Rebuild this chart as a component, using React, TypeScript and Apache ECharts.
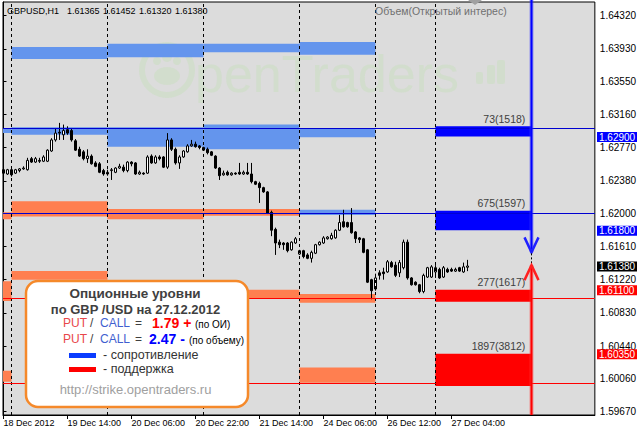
import React, { useEffect, useRef } from 'react';
import * as echarts from 'echarts';

// ---------- data ----------
const symbolTitle = 'GBPUSD,H1';
const lastQuote = ['1.61365', '1.61452', '1.61320', '1.61380'];
const indicatorTitle = 'Объем(Открытый интерес)';

const opens = [
  1.6251, 1.6246, 1.6251, 1.6247, 1.6250, 1.6252, 1.6251, 1.6264, 1.6260, 1.6262,
  1.6261, 1.6261, 1.6273, 1.6286, 1.6295, 1.6292, 1.6298, 1.6297, 1.6285, 1.6275,
  1.6272, 1.6264, 1.6267, 1.6259, 1.6258, 1.6250, 1.6246, 1.6250, 1.6248, 1.6253,
  1.6254, 1.6250, 1.6260, 1.6259, 1.6246, 1.6247, 1.6247, 1.6267, 1.6259, 1.6266,
  1.6266, 1.6254, 1.6286, 1.6275, 1.6259, 1.6266, 1.6272, 1.6279, 1.6281, 1.6279,
  1.6277, 1.6275, 1.6272, 1.6267, 1.6253, 1.6245, 1.6248, 1.6245, 1.6247, 1.6248,
  1.6246, 1.6248, 1.6246, 1.6237, 1.6235, 1.6230, 1.6225, 1.6201, 1.6181, 1.6166,
  1.6165, 1.6165, 1.6157, 1.6165, 1.6152, 1.6156, 1.6151, 1.6147, 1.6153, 1.6163,
  1.6165, 1.6170, 1.6170, 1.6171, 1.6180, 1.6190, 1.6189, 1.6189, 1.6178, 1.6171,
  1.6170, 1.6157, 1.6122, 1.6111, 1.6130, 1.6131, 1.6131, 1.6142, 1.6139, 1.6130,
  1.6136, 1.6166, 1.6124, 1.6119, 1.6116, 1.6108, 1.6125, 1.6125, 1.6131, 1.6134,
  1.6125, 1.6134, 1.6134, 1.6132, 1.6136, 1.6131, 1.61365,
];
const highs = [
  1.6252, 1.6252, 1.6252, 1.6252, 1.6253, 1.6255, 1.6265, 1.6266, 1.6266, 1.6265,
  1.6268, 1.6275, 1.6288, 1.6300, 1.6306, 1.6304, 1.6302, 1.6300, 1.6287, 1.6278,
  1.6274, 1.6275, 1.6269, 1.6261, 1.6260, 1.6252, 1.6251, 1.6253, 1.6254, 1.6258,
  1.6257, 1.6261, 1.6261, 1.6260, 1.6250, 1.6248, 1.6268, 1.6269, 1.6268, 1.6268,
  1.6267, 1.6294, 1.6288, 1.6277, 1.6268, 1.6274, 1.6281, 1.6286, 1.6284, 1.6280,
  1.6278, 1.6277, 1.6273, 1.6268, 1.6254, 1.6250, 1.6250, 1.6248, 1.6248, 1.6259,
  1.6250, 1.6259, 1.6259, 1.6238, 1.6237, 1.6231, 1.6226, 1.6203, 1.6183, 1.6169,
  1.6166, 1.6166, 1.6167, 1.6172, 1.6157, 1.6157, 1.6153, 1.6156, 1.6164, 1.6167,
  1.6173, 1.6173, 1.6177, 1.6181, 1.6198, 1.6204, 1.6190, 1.6206, 1.6179, 1.6172,
  1.6171, 1.6158, 1.6123, 1.6129, 1.6133, 1.6136, 1.6145, 1.6144, 1.6143, 1.6145,
  1.6169, 1.6169, 1.6125, 1.6120, 1.6117, 1.6129, 1.6137, 1.6139, 1.6139, 1.6136,
  1.6138, 1.6136, 1.6136, 1.6136, 1.6137, 1.6142, 1.61452,
];
const lows = [
  1.6245, 1.6245, 1.6243, 1.6246, 1.6248, 1.6251, 1.6250, 1.6259, 1.6259, 1.6259,
  1.6260, 1.6260, 1.6272, 1.6284, 1.6286, 1.6286, 1.6292, 1.6284, 1.6273, 1.6266,
  1.6262, 1.6259, 1.6257, 1.6254, 1.6247, 1.6244, 1.6244, 1.6239, 1.6247, 1.6252,
  1.6248, 1.6248, 1.6255, 1.6245, 1.6245, 1.6245, 1.6246, 1.6258, 1.6258, 1.6262,
  1.6253, 1.6252, 1.6273, 1.6257, 1.6252, 1.6265, 1.6271, 1.6278, 1.6277, 1.6275,
  1.6273, 1.6269, 1.6267, 1.6252, 1.6239, 1.6244, 1.6244, 1.6244, 1.6245, 1.6245,
  1.6245, 1.6245, 1.6235, 1.6233, 1.6212, 1.6224, 1.6199, 1.6173, 1.6151, 1.6159,
  1.6157, 1.6154, 1.6156, 1.6164, 1.6151, 1.6147, 1.6146, 1.6142, 1.6152, 1.6162,
  1.6164, 1.6169, 1.6169, 1.6170, 1.6179, 1.6183, 1.6183, 1.6176, 1.6165, 1.6165,
  1.6153, 1.6118, 1.6099, 1.6109, 1.6122, 1.6122, 1.6130, 1.6136, 1.6125, 1.6125,
  1.6134, 1.6122, 1.6115, 1.6115, 1.6106, 1.6106, 1.6124, 1.6124, 1.6124, 1.6123,
  1.6124, 1.6130, 1.6131, 1.6131, 1.6131, 1.6130, 1.6132,
];
const closes = [
  1.6247, 1.6251, 1.6245, 1.6251, 1.6252, 1.6253, 1.6262, 1.6260, 1.6264, 1.6261,
  1.6266, 1.6274, 1.6286, 1.6294, 1.6294, 1.6297, 1.6294, 1.6286, 1.6274, 1.6267,
  1.6264, 1.6267, 1.6258, 1.6255, 1.6248, 1.6246, 1.6248, 1.6251, 1.6253, 1.6255,
  1.6250, 1.6260, 1.6258, 1.6246, 1.6248, 1.6246, 1.6266, 1.6259, 1.6266, 1.6264,
  1.6254, 1.6286, 1.6275, 1.6259, 1.6266, 1.6273, 1.6279, 1.6281, 1.6278, 1.6277,
  1.6274, 1.6271, 1.6268, 1.6253, 1.6244, 1.6247, 1.6245, 1.6247, 1.6246, 1.6246,
  1.6248, 1.6246, 1.6237, 1.6234, 1.6230, 1.6225, 1.6200, 1.6180, 1.6165, 1.6163,
  1.6163, 1.6156, 1.6166, 1.6170, 1.6156, 1.6149, 1.6147, 1.6154, 1.6163, 1.6166,
  1.6171, 1.6172, 1.6174, 1.6180, 1.6189, 1.6184, 1.6184, 1.6177, 1.6170, 1.6169,
  1.6154, 1.6119, 1.6109, 1.6124, 1.6127, 1.6129, 1.6143, 1.6137, 1.6127, 1.6142,
  1.6166, 1.6124, 1.6116, 1.6116, 1.6108, 1.6127, 1.6136, 1.6137, 1.6136, 1.6124,
  1.6136, 1.6131, 1.6132, 1.6134, 1.6132, 1.6137, 1.6138,
];

const xTickIndex = [0, 16, 32, 48, 64, 80, 96, 112];
const xTickLabels = ['18 Dec 2012', '19 Dec 14:00', '20 Dec 06:00', '20 Dec 22:00', '21 Dec 14:00', '24 Dec 06:00', '26 Dec 12:00', '27 Dec 04:00'];
const daySeparators = [2, 26, 50, 74, 93, 108];
const yTickValues = [1.5967, 1.6006, 1.6044, 1.6083, 1.6122, 1.6161, 1.62, 1.6238, 1.6277, 1.6316, 1.6355, 1.6393, 1.6432];

const resistanceLevels = [1.629, 1.618];
const supportLevels = [1.611, 1.6035];
const bidPrice = 1.6138;

// [fromBar, toBar, low, high, kind]  kind: 0 past resistance, 1 past support, 2 resistance, 3 support
const pastZones = [
  [-1, 2, 1.6294, 1.6299, 0], [-1, 2, 1.6193, 1.6201, 1], [-1, 2, 1.6097, 1.6120, 1], [-1, 2, 1.6002, 1.6015, 1],
  [2, 26, 1.6381, 1.6395, 0], [2, 26, 1.6292, 1.6301, 0], [2, 26, 1.6196, 1.6214, 1], [2, 26, 1.6122, 1.6132, 1],
  [26, 50, 1.6383, 1.6399, 0], [26, 50, 1.6278, 1.6301, 0], [26, 50, 1.6193, 1.6205, 1],
  [50, 74, 1.6389, 1.6399, 0], [50, 74, 1.6275, 1.6304, 0], [50, 74, 1.6197, 1.6205, 1], [50, 74, 1.6100, 1.6110, 1],
  [74, 93, 1.6386, 1.6401, 0], [74, 93, 1.6289, 1.6300, 0], [74, 93, 1.6198, 1.6204, 0], [74, 93, 1.6095, 1.6105, 1], [74, 93, 1.6001, 1.6019, 1],
];
const todayZones = [
  [108, 132, 1.6290, 1.6302, 2], [108, 132, 1.6180, 1.6203, 2],
  [108, 132, 1.6096, 1.6110, 3], [108, 132, 1.5997, 1.6035, 3],
];
const todayZoneLabels = ['73(1518)', '675(1597)', '277(1617)', '1897(3812)'];

const forecastBar = 132;
const downArrowTip = 1.6154;
const upArrowTip = 1.6139;

const putCallOI = '1.79 +';
const putCallVolume = '2.47 -';

// ---------- chart ----------
const FONT = '"Liberation Sans", Arial, sans-serif';
const zoneColors = ['#6495ed', '#ff7f50', '#0000ff', '#ff0000'];

export default function App() {
  const ref = useRef<HTMLDivElement>(null);

  useEffect(() => {
    const el = ref.current as HTMLDivElement;
    const chart = echarts.init(el, null, { renderer: 'svg' });

    const candleData = opens.map((o, i) => [i, o, closes[i], lows[i], highs[i]]);
    const zoneData = [...pastZones, ...todayZones];
    const nPast = pastZones.length;

    const option: any = {
      animation: false,
      backgroundColor: '#ffffff',
      textStyle: { fontFamily: FONT },
      grid: {
        left: 3, right: 44, top: 2, bottom: 17, show: true,
        backgroundColor: '#dcdcdc', borderColor: '#000000', borderWidth: 1,
      },
      xAxis: {
        type: 'value', min: -0.125, max: 147.875,
        axisLine: { show: true, lineStyle: { color: '#000', width: 1 } },
        axisTick: { show: true, customValues: xTickIndex, length: 4, lineStyle: { color: '#000' } },
        axisLabel: {
          customValues: xTickIndex,
          formatter: (v: number) => xTickLabels[xTickIndex.indexOf(Math.round(v))] || '',
          align: 'left', color: '#000', fontSize: 9, margin: 3, fontFamily: FONT,
        },
        splitLine: { show: false },
      },
      yAxis: {
        type: 'value', position: 'right', min: 1.59631, max: 1.64479,
        axisLine: { show: true, lineStyle: { color: '#000', width: 1 } },
        axisTick: { show: true, customValues: yTickValues, length: 3, lineStyle: { color: '#000' } },
        axisLabel: {
          customValues: yTickValues,
          formatter: (v: number) => v.toFixed(5),
          color: '#000', fontSize: 10, lineHeight: 9, margin: 5, fontFamily: FONT,
        },
        splitLine: { show: false },
      },
      series: [
        {
          type: 'custom',
          z: 2,
          clip: true,
          silent: true,
          data: zoneData,
          encode: { x: [0, 1], y: [2, 3] },
          renderItem: (params: any, api: any) => {
            const p0 = api.coord([api.value(0), api.value(3)]);
            const p1 = api.coord([api.value(1), api.value(2)]);
            const kind = api.value(4);
            const rect = {
              type: 'rect',
              shape: { x: p0[0], y: p0[1], width: p1[0] - p0[0], height: p1[1] - p0[1] },
              style: { fill: zoneColors[kind] },
            };
            const li = params.dataIndex - nPast;
            if (li >= 0) {
              return {
                type: 'group',
                children: [
                  rect,
                  {
                    type: 'text',
                    x: p1[0] - 6, y: p0[1] - 2,
                    style: {
                      text: todayZoneLabels[li], fill: '#404040',
                      font: `10.5px ${FONT}`, align: 'right', verticalAlign: 'bottom',
                    },
                  },
                ],
              };
            }
            return rect;
          },
        },
        {
          type: 'candlestick',
          z: 3,
          silent: true,
          data: candleData,
          encode: { x: 0, y: [1, 2, 3, 4] },
          barWidth: 2,
          itemStyle: {
            color: '#ffffff', color0: '#000000',
            borderColor: '#000000', borderColor0: '#000000', borderWidth: 1,
          },
          markLine: {
            silent: true,
            symbol: ['none', 'none'],
            label: { show: false },
            data: [
              ...daySeparators.map((i) => ({ xAxis: i, lineStyle: { color: '#000', type: [3, 3], width: 1 } })),
              { yAxis: bidPrice, lineStyle: { color: '#c0c0c0', type: 'solid', width: 1 } },
              ...resistanceLevels.map((p) => ({ yAxis: p, lineStyle: { color: '#0000d0', type: 'solid', width: 1 } })),
              ...supportLevels.map((p) => ({ yAxis: p, lineStyle: { color: '#ff0000', type: 'solid', width: 1 } })),
            ],
          },
        },
      ],
    };
    chart.setOption(option);

    const px = (bar: number, price: number) =>
      chart.convertToPixel({ xAxisIndex: 0, yAxisIndex: 0 }, [bar, price]) as number[];

    const T = (x: number, y: number, text: string, font: string, fill: string, align = 'left', z = 10) => ({
      type: 'text', x, y, z, silent: true,
      style: { text, font, fill, align, verticalAlign: 'middle' },
    });

    const wm = 'rgba(180,225,160,0.24)';
    const elements: any[] = [];

    // watermark
    elements.push(
      { type: 'ring', z: 1, silent: true, shape: { cx: 167, cy: 70, r: 28, r0: 22 }, style: { fill: wm } },
      { type: 'circle', z: 1, silent: true, shape: { cx: 167, cy: 57, r: 5 }, style: { fill: wm } },
      { type: 'circle', z: 1, silent: true, shape: { cx: 157, cy: 61, r: 4 }, style: { fill: wm } },
      { type: 'circle', z: 1, silent: true, shape: { cx: 177, cy: 61, r: 4 }, style: { fill: wm } },
      { type: 'ellipse', z: 1, silent: true, shape: { cx: 167, cy: 76, rx: 13, ry: 9 }, style: { fill: wm } },
      { type: 'text', z: 1, silent: true, x: 195, y: 74, style: { text: 'penTraders', font: `52px ${FONT}`, fill: wm, align: 'left', verticalAlign: 'middle' } },
      { type: 'rect', z: 1, silent: true, shape: { x: 476, y: 72, width: 7, height: 12, r: 2 }, style: { fill: wm } },
      { type: 'rect', z: 1, silent: true, shape: { x: 487, y: 65, width: 8, height: 19, r: 2 }, style: { fill: wm } },
      { type: 'rect', z: 1, silent: true, shape: { x: 497, y: 60, width: 8, height: 24, r: 2 }, style: { fill: wm } },
    );

    // header
    elements.push(T(7, 11, symbolTitle, `9px ${FONT}`, '#000'));
    const qx = [67, 103, 139, 175];
    lastQuote.forEach((q, i) => elements.push(T(qx[i], 11, q, `9px ${FONT}`, '#000')));
    elements.push(T(375, 11, indicatorTitle, `10.5px ${FONT}`, '#707070'));
    elements.push({ type: 'polygon', z: 10, silent: true, shape: { points: [[468, 0], [482, 0], [475, 5]] }, style: { fill: '#a0a0a0' } });

    // price boxes on the right axis
    const box = (price: number, bg: string) => {
      const y = px(0, price)[1];
      elements.push({ type: 'rect', z: 10, silent: true, shape: { x: 597, y: y - 4.5, width: 40, height: 10 }, style: { fill: bg } });
      elements.push(T(599, y + 0.5, price.toFixed(5), `10px ${FONT}`, '#ffffff'));
    };
    resistanceLevels.forEach((p) => box(p, '#0000ff'));
    supportLevels.forEach((p) => box(p, '#ff0000'));
    box(bidPrice, '#000000');

    // forecast arrows
    const dTip = px(forecastBar, downArrowTip);
    const uTip = px(forecastBar, upArrowTip);
    const ax = Math.round(dTip[0]) + 0.5;
    const bottomY = px(forecastBar, 1.59631)[1];
    elements.push(
      { type: 'line', z: 8, silent: true, shape: { x1: ax, y1: 0, x2: ax, y2: dTip[1] }, style: { stroke: 'rgba(60,60,255,0.45)', lineWidth: 4 } },
      { type: 'line', z: 8, silent: true, shape: { x1: ax, y1: 0, x2: ax, y2: dTip[1] }, style: { stroke: '#0000ff', lineWidth: 2 } },
      { type: 'polyline', z: 8, silent: true, shape: { points: [[ax - 7, dTip[1] - 15], [ax, dTip[1]], [ax + 7, dTip[1] - 15]] }, style: { stroke: '#2020ff', lineWidth: 2.5, fill: null } },
      { type: 'line', z: 8, silent: true, shape: { x1: ax, y1: dTip[1] + 1, x2: ax, y2: uTip[1] - 1 }, style: { stroke: '#000', lineWidth: 1, lineDash: [2, 2] } },
      { type: 'line', z: 8, silent: true, shape: { x1: ax, y1: bottomY, x2: ax, y2: uTip[1] }, style: { stroke: 'rgba(255,60,60,0.45)', lineWidth: 4 } },
      { type: 'line', z: 8, silent: true, shape: { x1: ax, y1: bottomY, x2: ax, y2: uTip[1] }, style: { stroke: '#ff0000', lineWidth: 2 } },
      { type: 'polyline', z: 8, silent: true, shape: { points: [[ax - 7, uTip[1] + 15], [ax, uTip[1]], [ax + 7, uTip[1] + 15]] }, style: { stroke: '#ff2020', lineWidth: 2.5, fill: null } },
    );

    // info box
    const dark = '#404040';
    elements.push({
      type: 'rect', z: 12, silent: true,
      shape: { x: 26, y: 281, width: 222, height: 126, r: 12 },
      style: { fill: '#ffffff', stroke: '#f5892a', lineWidth: 2.5 },
    });
    elements.push(T(135, 293, 'Опционные уровни', `bold 13.5px ${FONT}`, dark, 'center', 13));
    elements.push(T(135.5, 309, 'по GBP /USD на 27.12.2012', `bold 13px ${FONT}`, dark, 'center', 13));
    [323, 339].forEach((y, r) => {
      elements.push(T(63, y, 'PUT', `12px ${FONT}`, '#e8474a', 'left', 13));
      elements.push(T(90, y, '/', `12px ${FONT}`, dark, 'left', 13));
      elements.push(T(100, y, 'CALL', `12px ${FONT}`, '#3f5fd0', 'left', 13));
      elements.push(T(135, y, '=', `12px ${FONT}`, dark, 'left', 13));
      if (r === 0) {
        elements.push(T(152, y, putCallOI, `bold 14px ${FONT}`, '#ff0000', 'left', 13));
        elements.push(T(195, y + 1, '(по ОИ)', `10px ${FONT}`, '#000', 'left', 13));
      } else {
        elements.push(T(149, y, putCallVolume, `bold 14px ${FONT}`, '#0000ff', 'left', 13));
        elements.push(T(189, y + 1, '(по объему)', `10px ${FONT}`, '#000', 'left', 13));
      }
    });
    elements.push({ type: 'rect', z: 13, silent: true, shape: { x: 69, y: 353, width: 27, height: 5 }, style: { fill: '#0a3cff' } });
    elements.push(T(103, 355, '- сопротивление', `12.5px ${FONT}`, '#333', 'left', 13));
    elements.push({ type: 'rect', z: 13, silent: true, shape: { x: 69, y: 367, width: 27, height: 5 }, style: { fill: '#ff0000' } });
    elements.push(T(103, 369, '- поддержка', `12.5px ${FONT}`, '#333', 'left', 13));
    elements.push(T(135.5, 389, 'http://strike.opentraders.ru', `13px ${FONT}`, '#a0a0a0', 'center', 13));

    chart.setOption({ graphic: { elements } });

    return () => chart.dispose();
  }, []);

  return <div ref={ref} style={{ position: 'absolute', left: 0, top: 0, width: 639, height: 432 }} />;
}
